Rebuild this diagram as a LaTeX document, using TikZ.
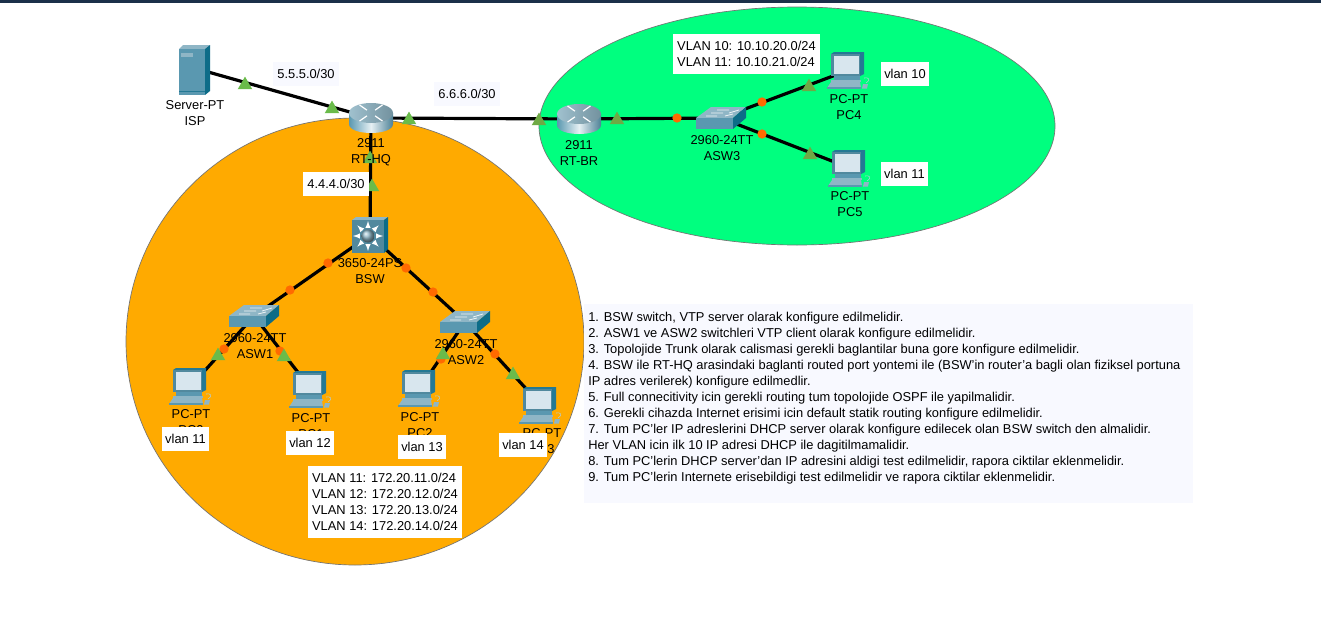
\documentclass[tikz,border=0pt]{standalone}
\usepackage{fontspec}
\setmainfont{Liberation Sans}
\usetikzlibrary{shapes.geometric}
\definecolor{panelbg}{HTML}{F8F9FF}
\definecolor{orangezone}{HTML}{FFAA00}
\definecolor{greenzone}{HTML}{00FF7F}
\definecolor{topbar}{HTML}{1B3049}
\definecolor{linkdot}{HTML}{FF6A00}
\definecolor{linkup}{HTML}{6ABB4A}
\definecolor{linkupdark}{HTML}{6FA945}
\definecolor{devmid}{HTML}{5A98B0}
\definecolor{devdark}{HTML}{0D6C88}
\definecolor{devlight}{HTML}{8FB6C6}
\definecolor{devscreen}{HTML}{D8E6EE}
\tikzset{
  zone/.style={draw=black!55,line width=.5pt},
  netlink/.style={line width=2.4pt,black},
  dotmark/.style={circle,fill=linkdot,inner sep=0pt,minimum size=7pt},
  upmark/.style={regular polygon,regular polygon sides=3,fill=#1,inner sep=0pt,minimum size=12.6pt},
  upmark/.default=linkup,
  devtext/.style={font=\fontsize{9.65}{12}\selectfont,align=center,inner sep=0pt,text=black,yshift=-.7pt},
  notebox/.style={font=\fontsize{9.65}{12}\selectfont,align=left,fill=#1,inner sep=0pt,text=black},
  notebox/.default=white,
  router/.pic={
    \shade[left color=devmid,right color=devmid!85!black,middle color=white!85!devmid]
      (-22,-5) -- (-22,6) .. controls (-22,18) and (22,18) .. (22,6) -- (22,-5) -- cycle;
    \shade[left color=devlight!85!white,right color=devlight!80!black] (0,-5) ellipse [x radius=22,y radius=10];
    \foreach \a in {35,145,215,325}{
      \draw[white,line width=.9pt,rotate around={\a:(0,-5)}] (5,-5) -- (14,-5);}
  },
  lanswitch/.pic={
    \fill[devlight] (-25,0) -- (-10,-11) -- (25,-11) -- (12,0) -- cycle;
    \fill[devmid] (-25,0) -- (12,0) -- (12,11) -- (-25,11) -- cycle;
    \fill[devdark] (12,0) -- (25,-11) -- (25,0) -- (12,11) -- cycle;
    \draw[white!85!devlight,line width=.6pt] (-15,-2) -- (-4,-2) (-10,-5) -- (2,-5) (-4,-8) -- (8,-8) (4,-2) -- (12,-4) (8,-5) -- (18,-8);
  },
  coreswitch/.pic={
    \fill[devlight] (-18,-15) -- (-14,-18) -- (18,-18) -- (14,-15) -- cycle;
    \fill[devdark] (14,-15) -- (18,-18) -- (18,14) -- (14,18) -- cycle;
    \fill[devmid!90!black] (-18,-15) rectangle (14,18);
    \foreach \a in {0,45,...,315}{
      \draw[white,line width=.8pt,rotate around={\a:(-2,1)},-{latex}] (6,1) -- (13,1);}
    \shade[ball color=devlight] (-2,1) circle [radius=6.5];
  },
  serverbox/.pic={
    \fill[devlight] (-15,-21) -- (-11,-25) -- (16,-25) -- (11,-21) -- cycle;
    \fill[devdark] (11,-21) -- (16,-25) -- (16,21) -- (11,25) -- cycle;
    \fill[devmid] (-15,-21) rectangle (11,25);
    \fill[devlight] (-13,-17) rectangle (-1,-13);
    \draw[devdark!70!devmid,line width=.5pt] (-15,21) -- (11,21);
  },
  desktop/.pic={
    \fill[devdark!70!devmid] (-18,-16) -- (-15,-18) -- (15,-18) -- (15,4) -- (11,6) -- cycle;
    \fill[devmid!90!black] (-18,-16) rectangle (11,6);
    \fill[devscreen] (-15.5,-14.5) rectangle (9.5,4);
    \fill[devmid] (-15,6) rectangle (11,10);
    \fill[devlight] (-18,10) rectangle (12,12);
    \fill[devlight] (-18,12) -- (11,12) -- (12,18) -- (-22,18) -- cycle;
    \fill[devmid] (-22,17) rectangle (12,18.5);
    \fill[devlight] (14,14) -- (19,14) -- (18,18.5) -- (13,18.5) -- cycle;
    \draw[devlight!70!white,line width=.4pt] (17,13) .. controls (22,10) and (20,7) .. (15,8);
  }
}
\begin{document}
\begin{tikzpicture}[x=.75pt,y=-.75pt]
\useasboundingbox (0,0) rectangle (1321,621);
\fill[white] (0,0) rectangle (1321,621);
\fill[topbar] (0,0) rectangle (1321,2.5);

% zones
\draw[zone,fill=orangezone] (355,341.5) ellipse [x radius=229,y radius=223.5];
\draw[zone,fill=greenzone] (797,126) ellipse [x radius=258,y radius=119];

% device anchors
\coordinate (isp) at (194,68);
\coordinate (hq) at (371,118);
\coordinate (br) at (579,119);
\coordinate (bsw) at (370,235);
\coordinate (asw1) at (254,316);
\coordinate (asw2) at (465,322);
\coordinate (asw3) at (721,118);
\coordinate (pc0) at (191,386);
\coordinate (pc1) at (311,389);
\coordinate (pc2) at (420,388);
\coordinate (pc3) at (541,405);
\coordinate (pc4) at (849,70);
\coordinate (pc5) at (850,168);

% connectors
\draw[netlink] (isp) -- (hq);
\draw[netlink] (hq) -- (br);
\draw[netlink] (hq) -- (bsw);
\draw[netlink] (bsw) -- (asw1);
\draw[netlink] (bsw) -- (asw2);
\draw[netlink] (asw1) -- (pc0);
\draw[netlink] (asw1) -- (pc1);
\draw[netlink] (asw2) -- (pc2);
\draw[netlink] (asw2) -- (pc3);
\draw[netlink] (br) -- (asw3);
\draw[netlink] (asw3) -- (pc4);
\draw[netlink] (asw3) -- (pc5);

% devices
\pic at (194,70) {serverbox};
\pic at (hq) {router};
\pic at (br) {router};
\pic at (bsw) {coreswitch};
\pic at (asw1) {lanswitch};
\pic at (asw2) {lanswitch};
\pic at (asw3) {lanswitch};
\pic at (pc0) {desktop};
\pic at (pc1) {desktop};
\pic at (pc2) {desktop};
\pic at (pc3) {desktop};
\pic at (pc4) {desktop};
\pic at (pc5) {desktop};

% link state markers
\foreach \px/\py [count=\i] in {328/263,290/290,406/268,433/292,224/349,280/351,441/359,495/354,677/118,762/102,762/134}
  \node[dotmark] (dot\i) at (\px,\py) {};
\foreach \px/\py [count=\i] in {245/85,332/109,409/120,370/159,372/187,218/356,284/357,443/355,513/375}
  \node[upmark] (up\i) at (\px,\py) {};
\foreach \px/\py [count=\i] in {539/121,617/120,809/87,810/155}
  \node[upmark=linkupdark] (upb\i) at (\px,\py) {};

% device labels
\node[devtext] (lisp) at (195,112) {Server-PT\\ISP};
\node[devtext] (lhq) at (371,151) {2911\\RT-HQ};
\node[devtext] (lbr) at (579,152) {2911\\RT-BR};
\node[devtext] (lbsw) at (370,270) {3650-24PS\\BSW};
\node[devtext] (lasw1) at (255,345.5) {2960-24TT\\ASW1};
\node[devtext] (lasw2) at (466,351) {2960-24TT\\ASW2};
\node[devtext] (lasw3) at (722,147) {2960-24TT\\ASW3};
\node[devtext] (lpc0) at (191,421) {PC-PT\\PC0};
\node[devtext] (lpc1) at (311,425) {PC-PT\\PC1};
\node[devtext] (lpc2) at (420,424) {PC-PT\\PC2};
\node[devtext] (lpc3) at (542,440) {PC-PT\\PC3};
\node[devtext] (lpc4) at (849,106) {PC-PT\\PC4};
\node[devtext] (lpc5) at (850,203) {PC-PT\\PC5};

% network and VLAN notes
\node[notebox=panelbg,minimum width=49.5pt,minimum height=18pt] (n5) at (306,74) {5.5.5.0/30};
\node[notebox=panelbg,minimum width=49.5pt,minimum height=18pt] (n6) at (467,94) {6.6.6.0/30};
\node[notebox,minimum width=49.5pt,minimum height=18pt] (n4) at (336,184) {4.4.4.0/30};
\node[notebox,minimum width=35.25pt,minimum height=18pt] (v11a) at (185.5,439) {vlan 11};
\node[notebox,minimum width=36pt,minimum height=18pt] (v12) at (310,443) {vlan 12};
\node[notebox,minimum width=36pt,minimum height=18pt] (v13) at (422,447) {vlan 13};
\node[notebox,minimum width=36pt,minimum height=18pt] (v14) at (523,445) {vlan 14};
\node[notebox,minimum width=36pt,minimum height=18pt] (v10) at (905,73.5) {vlan 10};
\node[notebox,minimum width=35.25pt,minimum height=18pt] (v11b) at (904.5,174) {vlan 11};
\node[notebox,minimum width=115.5pt,minimum height=54pt] (hqnets) at (385,502) {VLAN 11: 172.20.11.0/24\\VLAN 12: 172.20.12.0/24\\VLAN 13: 172.20.13.0/24\\VLAN 14: 172.20.14.0/24};
\node[notebox,minimum width=110pt,minimum height=30pt] (brnets) at (746.5,54) {VLAN 10: 10.10.20.0/24\\VLAN 11: 10.10.21.0/24};

% task list
\fill[panelbg] (584,304) rectangle (1193,503);
\node[devtext,align=left,anchor=north west] (tasks) at (588,310.5) {1. BSW switch, VTP server olarak konfigure edilmelidir.\\
2. ASW1 ve ASW2 switchleri VTP client olarak konfigure edilmelidir.\\
3. Topolojide Trunk olarak calismasi gerekli baglantilar buna gore konfigure edilmelidir.\\
4. BSW ile RT-HQ arasindaki baglanti routed port yontemi ile (BSW'in router'a bagli olan fiziksel portuna\\
IP adres verilerek) konfigure edilmedlir.\\
5. Full connecitivity icin gerekli routing tum topolojide OSPF ile yapilmalidir.\\
6. Gerekli cihazda Internet erisimi icin default statik routing konfigure edilmelidir.\\
7. Tum PC'ler IP adreslerini DHCP server olarak konfigure edilecek olan BSW switch den almalidir.\\
Her VLAN icin ilk 10 IP adresi DHCP ile dagitilmamalidir.\\
8. Tum PC'lerin DHCP server'dan IP adresini aldigi test edilmelidir, rapora ciktilar eklenmelidir.\\
9. Tum PC'lerin Internete erisebildigi test edilmelidir ve rapora ciktilar eklenmelidir.};
\end{tikzpicture}
\end{document}
